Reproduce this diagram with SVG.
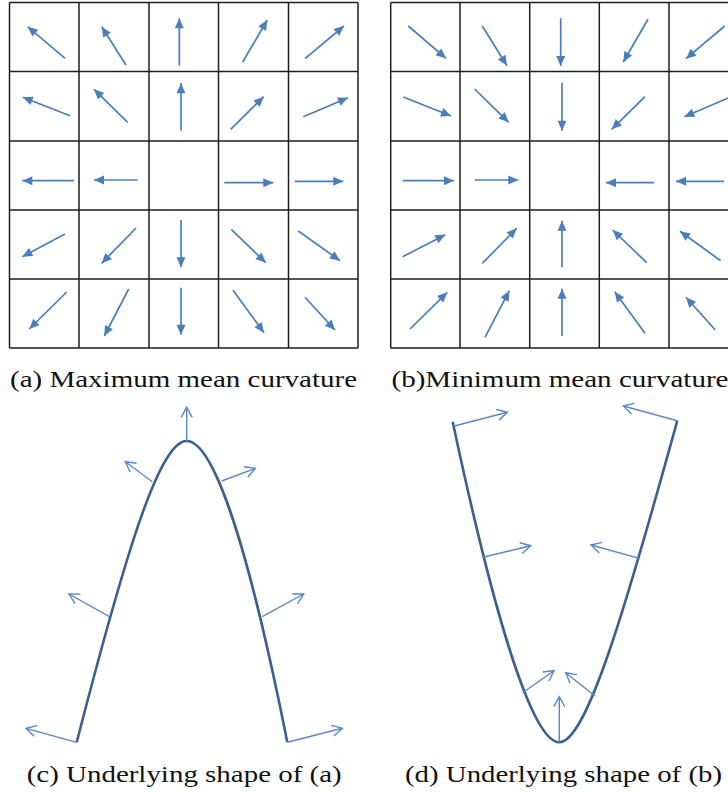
<svg xmlns="http://www.w3.org/2000/svg" width="728" height="792" viewBox="0 0 728 792">
<style>
.grid{stroke:#1e1e1e;stroke-width:1.5;fill:none}
.ga{stroke:#4a7ebb;stroke-width:1.7;fill:none;marker-end:url(#fh)}
.curve{stroke:#3b6090;stroke-width:2.6;fill:none}
.nrm{stroke:#5a87c6;stroke-width:1.4;fill:none;marker-end:url(#oh)}
.cap{font-family:"Liberation Serif","DejaVu Serif",serif;font-size:24px;fill:#111}
</style>
<defs>
<marker id="fh" markerUnits="userSpaceOnUse" markerWidth="10" markerHeight="9" refX="10" refY="4.5" orient="auto" overflow="visible">
<path d="M0,0 L10,4.5 L0,9 z" fill="#4a7ebb"/>
</marker>
<marker id="oh" markerUnits="userSpaceOnUse" markerWidth="11" markerHeight="11" refX="10.5" refY="5.5" orient="auto" overflow="visible">
<path d="M0.5,0 L10.5,5.5 L0.5,11" fill="none" stroke="#5a87c6" stroke-width="1.4"/>
</marker>
</defs>
<rect width="728" height="792" fill="#fff"/>

<g id="gridA">
<path class="grid" d="M9.5,2.5V348 M79,2.5V348 M149,2.5V348 M218.5,2.5V348 M288.5,2.5V348 M358,2.5V348 M9.5,2.5H358 M9.5,71.5H358 M9.5,141H358 M9.5,210H358 M9.5,279H358 M9.5,348H358"/>
</g>
<g id="gridB">
<path class="grid" d="M390.7,2.5V348 M460,2.5V348 M529.7,2.5V348 M599.3,2.5V348 M669,2.5V348 M390.7,2.5H728 M390.7,71.5H728 M390.7,141H728 M390.7,210H728 M390.7,279H728 M390.7,348H728"/>
</g>

<g id="arrowsA">
<line class="ga" x1="65" y1="58.3" x2="27.7" y2="26.7"/>
<line class="ga" x1="126" y1="65" x2="101.7" y2="26.7"/>
<line class="ga" x1="179.3" y1="65.7" x2="179.3" y2="18.3"/>
<line class="ga" x1="242.7" y1="62" x2="267.3" y2="20"/>
<line class="ga" x1="305" y1="58.7" x2="344" y2="26"/>
<line class="ga" x1="70" y1="115.7" x2="22.7" y2="97.3"/>
<line class="ga" x1="127.7" y1="122.3" x2="94" y2="89.3"/>
<line class="ga" x1="181" y1="130.7" x2="181" y2="83.3"/>
<line class="ga" x1="230.7" y1="129.3" x2="263.7" y2="96.7"/>
<line class="ga" x1="303.3" y1="116.7" x2="348" y2="97.7"/>
<line class="ga" x1="74" y1="180.7" x2="22.3" y2="180.7"/>
<line class="ga" x1="137.7" y1="180" x2="94" y2="180"/>
<line class="ga" x1="224.3" y1="182.7" x2="273.3" y2="182.7"/>
<line class="ga" x1="294.7" y1="181.3" x2="343.3" y2="181.3"/>
<line class="ga" x1="65" y1="234" x2="22.3" y2="256.7"/>
<line class="ga" x1="136" y1="228" x2="101.7" y2="263.3"/>
<line class="ga" x1="181" y1="220" x2="181" y2="267.3"/>
<line class="ga" x1="231.3" y1="229.3" x2="265.7" y2="262.7"/>
<line class="ga" x1="298.3" y1="231" x2="340" y2="260.7"/>
<line class="ga" x1="66.7" y1="292" x2="29.3" y2="329"/>
<line class="ga" x1="128.7" y1="289" x2="104.3" y2="336"/>
<line class="ga" x1="181" y1="287.7" x2="181" y2="334.7"/>
<line class="ga" x1="233" y1="290.3" x2="264" y2="332.7"/>
<line class="ga" x1="305" y1="297.3" x2="335" y2="330"/>
</g>

<g id="arrowsB">
<line class="ga" x1="408.3" y1="26" x2="446" y2="58.3"/>
<line class="ga" x1="482.3" y1="26" x2="507" y2="65.7"/>
<line class="ga" x1="560.7" y1="18.3" x2="560.7" y2="66"/>
<line class="ga" x1="648" y1="19.3" x2="623.3" y2="62"/>
<line class="ga" x1="724.7" y1="26" x2="686" y2="58.7"/>
<line class="ga" x1="403.3" y1="97" x2="451" y2="116"/>
<line class="ga" x1="474.7" y1="89" x2="508.7" y2="122.3"/>
<line class="ga" x1="562" y1="82.7" x2="562" y2="130.7"/>
<line class="ga" x1="645" y1="96.7" x2="611.7" y2="129.3"/>
<line class="ga" x1="729" y1="97.7" x2="684.3" y2="116.7"/>
<line class="ga" x1="402.7" y1="180.7" x2="454" y2="180.7"/>
<line class="ga" x1="474.7" y1="180" x2="518.3" y2="180"/>
<line class="ga" x1="654" y1="182.7" x2="606" y2="182.7"/>
<line class="ga" x1="724" y1="181.3" x2="676" y2="181.3"/>
<line class="ga" x1="402.7" y1="256.7" x2="445.3" y2="234.7"/>
<line class="ga" x1="482.3" y1="263.3" x2="516.7" y2="228.3"/>
<line class="ga" x1="562" y1="267.3" x2="562" y2="220.7"/>
<line class="ga" x1="646.7" y1="262.7" x2="612.7" y2="230"/>
<line class="ga" x1="720.7" y1="260.7" x2="680" y2="231.3"/>
<line class="ga" x1="410" y1="329" x2="447.3" y2="292.3"/>
<line class="ga" x1="485" y1="337.3" x2="509.3" y2="290.7"/>
<line class="ga" x1="562" y1="336" x2="562" y2="288.7"/>
<line class="ga" x1="645" y1="333.3" x2="614.7" y2="291.7"/>
<line class="ga" x1="715.3" y1="330" x2="686" y2="297.3"/>
</g>

<g id="shapeC">
<path class="curve" d="M76.7,742.3 C126.7,548.3 160,441 186.7,441 C213.4,441 248.3,546.3 287.3,742.3"/>
</g>
<g id="shapeD">
<path class="curve" d="M452.7,421.7 C494.3,617.3 532.6,742.3 559.3,742.3 C586,742.3 624.1,613.5 677.3,420.7"/>
</g>

<g id="connectors">
<line class="nrm" x1="186.7" y1="441" x2="186.7" y2="407.3"/>
<line class="nrm" x1="152.3" y1="481.7" x2="125.3" y2="461.7"/>
<line class="nrm" x1="221.7" y1="481" x2="255.3" y2="468.3"/>
<line class="nrm" x1="109.3" y1="616.7" x2="69" y2="594"/>
<line class="nrm" x1="262.3" y1="616.7" x2="303.7" y2="594"/>
<line class="nrm" x1="76.7" y1="742.3" x2="26" y2="728.3"/>
<line class="nrm" x1="287.3" y1="742.3" x2="342.3" y2="728.3"/>
<line class="nrm" x1="454.3" y1="426" x2="507.3" y2="412.3"/>
<line class="nrm" x1="677.3" y1="420.7" x2="623.3" y2="406"/>
<line class="nrm" x1="482.7" y1="557.3" x2="530.7" y2="545.7"/>
<line class="nrm" x1="639.3" y1="558.3" x2="591" y2="545"/>
<line class="nrm" x1="522.7" y1="692.7" x2="554" y2="670.7"/>
<line class="nrm" x1="595" y1="696" x2="565.7" y2="672.7"/>
<line class="nrm" x1="559.3" y1="742.3" x2="559.3" y2="696.7"/>
</g>

<g id="captions">
<text class="cap" x="10" y="387" textLength="347" lengthAdjust="spacingAndGlyphs">(a) Maximum mean curvature</text>
<text class="cap" x="391.5" y="387" textLength="337" lengthAdjust="spacingAndGlyphs">(b)Minimum mean curvature</text>
<text class="cap" x="26.7" y="782" textLength="315" lengthAdjust="spacingAndGlyphs">(c) Underlying shape of (a)</text>
<text class="cap" x="405" y="782" textLength="317" lengthAdjust="spacingAndGlyphs">(d) Underlying shape of (b)</text>
</g>
</svg>
